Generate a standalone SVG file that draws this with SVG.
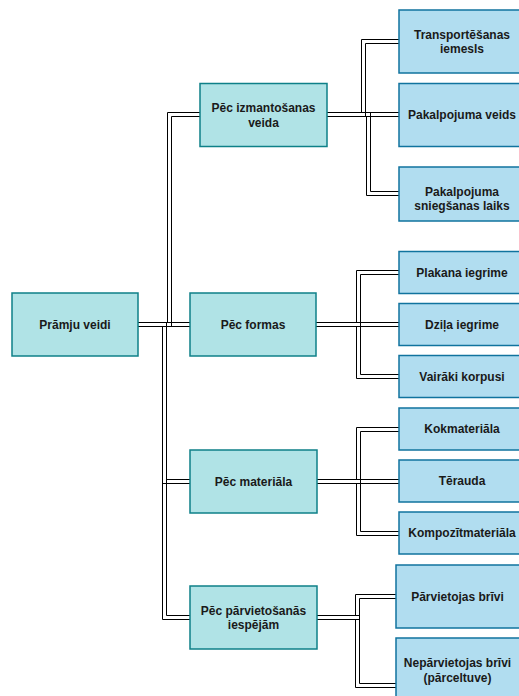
<svg xmlns="http://www.w3.org/2000/svg" width="519" height="696" viewBox="0 0 519 696">
<style>
.l1 rect{fill:#b0e3e6;stroke:#0e8088;stroke-width:1.5}
.l2 rect{fill:#b1ddf0;stroke:#10739e;stroke-width:1.5}
text{font-family:"Liberation Sans",Arial,sans-serif;font-size:12px;font-weight:bold;fill:#1a1a1a;text-anchor:middle}
#connectors polyline{fill:none;stroke:#000;stroke-width:1}
</style>
<rect width="519" height="696" fill="#fff"/>
<g id="connectors">
<!-- root to level 1 -->
<polyline points="138,322.5 167.5,322.5 167.5,112.5 200,112.5"/>
<polyline points="138,326.5 171.5,326.5 171.5,116.5 200,116.5"/>
<polyline points="138,322.5 190,322.5"/>
<polyline points="138,326.5 190,326.5"/>
<polyline points="138,322.5 166.5,322.5 166.5,479.5 190,479.5"/>
<polyline points="138,326.5 162.5,326.5 162.5,483.5 190,483.5"/>
<polyline points="138,322.5 166.5,322.5 166.5,615.5 190,615.5"/>
<polyline points="138,326.5 162.5,326.5 162.5,619.5 190,619.5"/>
<!-- Pec izmantosanas -->
<polyline points="327,112.5 361.5,112.5 361.5,39.5 399,39.5"/>
<polyline points="327,116.5 365.5,116.5 365.5,43.5 399,43.5"/>
<polyline points="327,112.5 399,112.5"/>
<polyline points="327,116.5 399,116.5"/>
<polyline points="327,112.5 370.5,112.5 370.5,191.5 399,191.5"/>
<polyline points="327,116.5 366.5,116.5 366.5,195.5 399,195.5"/>
<!-- Pec formas -->
<polyline points="316,322.5 356.5,322.5 356.5,270.5 399,270.5"/>
<polyline points="316,326.5 360.5,326.5 360.5,274.5 399,274.5"/>
<polyline points="316,322.5 399,322.5"/>
<polyline points="316,326.5 399,326.5"/>
<polyline points="316,322.5 360.5,322.5 360.5,374.5 399,374.5"/>
<polyline points="316,326.5 356.5,326.5 356.5,378.5 399,378.5"/>
<!-- Pec materiala -->
<polyline points="317,479.5 356.5,479.5 356.5,427.5 399,427.5"/>
<polyline points="317,483.5 360.5,483.5 360.5,431.5 399,431.5"/>
<polyline points="317,479.5 399,479.5"/>
<polyline points="317,483.5 399,483.5"/>
<polyline points="317,479.5 360.5,479.5 360.5,531.5 399,531.5"/>
<polyline points="317,483.5 356.5,483.5 356.5,535.5 399,535.5"/>
<!-- Pec parvietosanas -->
<polyline points="317,615.5 355.5,615.5 355.5,594.5 396,594.5"/>
<polyline points="317,619.5 359.5,619.5 359.5,598.5 396,598.5"/>
<polyline points="317,615.5 359.5,615.5 359.5,683.5 396,683.5"/>
<polyline points="317,619.5 355.5,619.5 355.5,687.5 396,687.5"/>
</g>
<g id="root" class="l1"><rect x="12" y="293" width="126" height="63"/><text x="75" y="328.8">Prāmju veidi</text></g>
<g id="izmantosanas" class="l1"><rect x="200" y="83.5" width="127" height="63"/><text x="263.5" y="112">Pēc izmantošanas</text><text x="263.5" y="126.5">veida</text></g>
<g id="formas" class="l1"><rect x="190" y="293" width="126" height="63"/><text x="253" y="328.8">Pēc formas</text></g>
<g id="materiala" class="l1"><rect x="190" y="450" width="127" height="63"/><text x="253.5" y="485.8">Pēc materiāla</text></g>
<g id="parvietosanas" class="l1"><rect x="190" y="586" width="127" height="63"/><text x="253.5" y="614.6">Pēc pārvietošanās</text><text x="253.5" y="629">iespējām</text></g>
<g id="transportesanas" class="l2"><rect x="399" y="10" width="127" height="63"/><text x="462" y="38.5">Transportēšanas</text><text x="462" y="53">iemesls</text></g>
<g id="pakalpojuma-veids" class="l2"><rect x="399" y="83.5" width="127" height="63"/><text x="462" y="119.3">Pakalpojuma veids</text></g>
<g id="sniegsanas" class="l2"><rect x="399" y="167" width="127" height="54"/><text x="462" y="195.5">Pakalpojuma</text><text x="462" y="210">sniegšanas laiks</text></g>
<g id="plakana" class="l2"><rect x="399" y="251.5" width="127" height="42"/><text x="462" y="276.8">Plakana iegrime</text></g>
<g id="dzila" class="l2"><rect x="399" y="303.5" width="127" height="42"/><text x="462" y="328.8">Dziļa iegrime</text></g>
<g id="vairaki" class="l2"><rect x="399" y="355.5" width="127" height="42"/><text x="462" y="380.8">Vairāki korpusi</text></g>
<g id="kokmateriala" class="l2"><rect x="399" y="408" width="127" height="42"/><text x="462" y="433.3">Kokmateriāla</text></g>
<g id="terauda" class="l2"><rect x="399" y="460" width="127" height="42"/><text x="462" y="485.3">Tērauda</text></g>
<g id="kompozit" class="l2"><rect x="399" y="512" width="127" height="42"/><text x="462" y="537.3">Kompozītmateriāla</text></g>
<g id="parvietojas" class="l2"><rect x="396" y="565" width="132" height="63"/><text x="457.5" y="600.8">Pārvietojas brīvi</text></g>
<g id="neparvietojas" class="l2"><rect x="396" y="638" width="132" height="70"/><text x="457.5" y="667">Nepārvietojas brīvi</text><text x="457.5" y="682">(pārceltuve)</text></g>
</svg>
